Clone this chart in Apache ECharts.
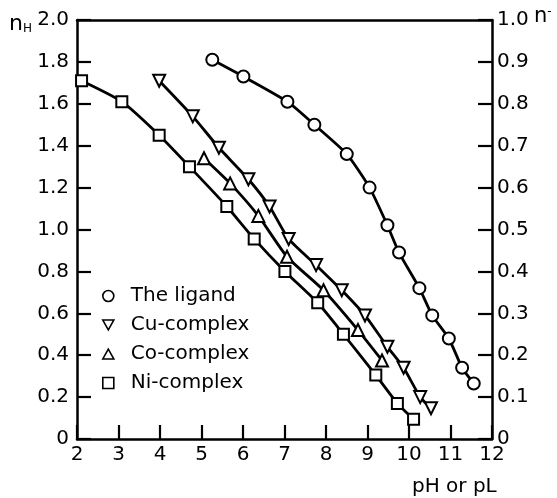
<!DOCTYPE html>
<html><head><meta charset="utf-8">
<script src="https://cdn.jsdelivr.net/npm/echarts@6/dist/echarts.min.js"></script>
<style>html,body{margin:0;padding:0;background:#fff}#c{width:557px;height:498px}</style>
</head><body><div id="c"></div>
<script>
const ligandX = [5.26, 6.01, 7.07, 7.72, 8.50, 9.05, 9.48, 9.76, 10.25, 10.56, 10.96, 11.28, 11.56];
const ligandY = [1.81, 1.73, 1.61, 1.50, 1.36, 1.20, 1.02, 0.89, 0.72, 0.59, 0.48, 0.34, 0.265];
const cuX = [3.98, 4.79, 5.42, 6.13, 6.64, 7.10, 7.76, 8.38, 8.94, 9.48, 9.87, 10.27, 10.53];
const cuY = [1.71, 1.54, 1.39, 1.24, 1.11, 0.955, 0.83, 0.71, 0.59, 0.44, 0.34, 0.20, 0.147];
const coX = [5.06, 5.69, 6.37, 7.06, 7.94, 8.77, 9.35];
const coY = [1.34, 1.22, 1.065, 0.87, 0.71, 0.52, 0.375];
const niX = [2.11, 3.08, 3.98, 4.71, 5.61, 6.27, 7.01, 7.80, 8.42, 9.20, 9.72, 10.11];
const niY = [1.71, 1.61, 1.45, 1.30, 1.11, 0.955, 0.80, 0.65, 0.50, 0.305, 0.17, 0.094];
const seriesNames = ['The ligand', 'Cu-complex', 'Co-complex', 'Ni-complex'];
const xTitle = 'pH or pL';

const downTri = 'path://M0,0 L10,0 L5,9 Z';
const upTri = 'path://M5,0 L10,9 L0,9 Z';
const symbols = ['circle', downTri, upTri, 'rect'];
const xs = [ligandX, cuX, coX, niX];
const ys = [ligandY, cuY, coY, niY];

const FONT = 'DejaVu Sans';
const chart = echarts.init(document.getElementById('c'), null, {renderer: 'canvas'});
const fmt = v => v === 0 ? '0' : v.toFixed(1);

chart.setOption({
  animation: false,
  backgroundColor: '#fff',
  textStyle: {fontFamily: FONT, color: '#000'},
  grid: {left: 77, right: 65, top: 20, bottom: 59},
  legend: {
    orient: 'vertical', left: 97, top: 281,
    itemWidth: 11, itemHeight: 11, itemGap: 9,
    textStyle: {fontFamily: FONT, fontSize: 20, color: '#000', padding: [0, 0, 0, 12]},
    data: seriesNames.map((n, i) => ({
      name: n, icon: symbols[i],
      itemStyle: {color: '#fff', borderColor: '#000', borderWidth: 1.6}
    }))
  },
  xAxis: [{
    type: 'value', min: 2, max: 12, interval: 1, position: 'bottom',
    axisLine: {show: true, onZero: false, lineStyle: {color: '#000', width: 2.5}},
    axisTick: {show: true, inside: true, length: 14, lineStyle: {color: '#000', width: 2.2}},
    axisLabel: {fontFamily: FONT, fontSize: 20, color: '#000', margin: 6},
    splitLine: {show: false}
  }, {
    type: 'value', min: 2, max: 12, position: 'top',
    axisLine: {show: true, onZero: false, lineStyle: {color: '#000', width: 2.5}},
    axisTick: {show: false}, axisLabel: {show: false}, splitLine: {show: false}
  }],
  yAxis: [{
    type: 'value', min: 0, max: 2, interval: 0.2, position: 'left',
    axisLine: {show: true, onZero: false, lineStyle: {color: '#000', width: 2.5}},
    axisTick: {show: true, inside: true, length: 14, lineStyle: {color: '#000', width: 2.2}},
    axisLabel: {fontFamily: FONT, fontSize: 20, color: '#000', margin: 8, formatter: fmt},
    splitLine: {show: false}
  }, {
    type: 'value', min: 0, max: 1, interval: 0.1, position: 'right',
    axisLine: {show: true, onZero: false, lineStyle: {color: '#000', width: 2.5}},
    axisTick: {show: true, inside: true, length: 14, lineStyle: {color: '#000', width: 2.2}},
    axisLabel: {fontFamily: FONT, fontSize: 20, color: '#000', margin: 5, formatter: fmt},
    splitLine: {show: false}
  }],
  graphic: [
    {type: 'text', left: 9, top: 13, style: {
      text: '{n|n}{s|H}', fill: '#000',
      rich: {n: {fontFamily: FONT, fontSize: 22, fill: '#000'}, s: {fontFamily: FONT, fontSize: 12, fill: '#000', padding: [10, 0, 0, 0]}}
    }},
    {type: 'text', left: 534, top: 6, style: {
      text: '{n|n}{s|-}', fill: '#000',
      rich: {n: {fontFamily: FONT, fontSize: 21, fill: '#000'}, s: {fontFamily: FONT, fontSize: 12, fill: '#000', padding: [0, 0, 10, 0]}}
    }},
    {type: 'text', left: 412, top: 477, style: {text: xTitle, fontFamily: FONT, fontSize: 20, fill: '#000'}}
  ],
  series: seriesNames.map((n, i) => ({
    name: n, type: 'line', xAxisIndex: 0, yAxisIndex: 0,
    data: xs[i].map((x, j) => [x, ys[i][j]]),
    smooth: 0.2,
    symbol: symbols[i], symbolSize: i === 3 ? 11 : 12,
    lineStyle: {color: '#000', width: 2.8},
    itemStyle: {color: '#fff', borderColor: '#000', borderWidth: 2},
    z: 2
  }))
});
</script></body></html>
